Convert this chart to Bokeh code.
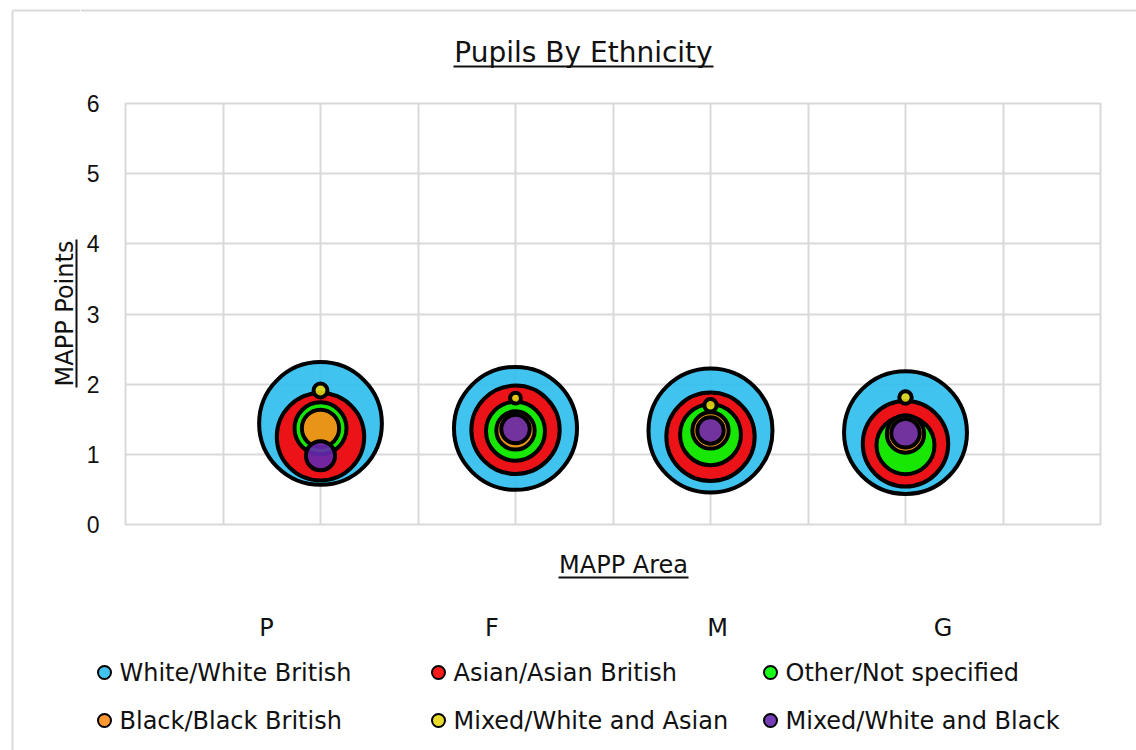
from math import sqrt, pi

from bokeh.plotting import figure
from bokeh.layouts import column, row
from bokeh.models import ColumnDataSource, FixedTicker
from bokeh.core.properties import value
from bokeh.embed import file_html
from bokeh.resources import INLINE

# ---- data -------------------------------------------------------------
areas = ["P", "F", "M", "G"]
area_x = [2, 4, 6, 8]

groups = ["White/White British", "Asian/Asian British", "Other/Not specified",
          "Black/Black British", "Mixed/White and Asian", "Mixed/White and Black"]

# mean MAPP points per area
white_points = [1.44, 1.37, 1.34, 1.31]
asian_points = [1.25, 1.35, 1.25, 1.15]
other_points = [1.37, 1.33, 1.28, 1.13]
black_points = [1.37, 1.34, 1.34, 1.29]
mixed_wa_points = [1.91, 1.80, 1.70, 1.81]
mixed_wb_points = [0.98, 1.36, 1.34, 1.30]

# number of pupils per area (bubble size)
white_pupils = [390, 392, 398, 391]
asian_pupils = [198, 202, 202, 189]
other_pupils = [70, 90, 96, 87]
black_pupils = [36, 38, 34, 36]
mixed_wa_pupils = [5, 3, 4, 4]
mixed_wb_pupils = [22, 21, 18, 21]

y_ticks = [0, 1, 2, 3, 4, 5, 6]

# ---- styling ----------------------------------------------------------
colors = ["#2CBCEE", "#FF0000", "#00FF00", "#FF8C1A", "#E4D614", "#6628AE"]
GRID = "#d9d9d9"
INK = "#111111"
FONT = "DejaVu Sans"

W, H = 1136, 750
LEFT_W = 80                   # strip holding the y title
TOP_H, MID_H = 90, 460        # title strip, plot strip
FRAME_L, FRAME_R, FRAME_T, FRAME_B = 125, 1100, 103, 524
BORDER_X, BORDER_Y = 12, 10


def strip(x0, x1, y0, y1):
    """Blank figure covering page pixels x0..x1, y0..y1 (y measured downwards)."""
    f = figure(width=x1 - x0, height=y1 - y0, x_range=(x0, x1), y_range=(y1, y0),
               output_backend="svg", toolbar_location=None, title=None,
               x_axis_location=None, y_axis_location=None, min_border=0)
    f.grid.visible = False
    f.outline_line_color = None
    f.background_fill_color = "white"
    f.border_fill_color = "white"
    return f


def words(f, xs, ys, texts, size, align="center", angle=0):
    f.text(x=xs, y=ys, text=texts, text_font=value(FONT), text_font_size=size,
           text_color=INK, text_align=align, text_baseline="middle", angle=angle)


def rule(f, x0, y0, x1, y1, color=INK):
    f.segment(x0=[x0], y0=[y0], x1=[x1], y1=[y1], line_color=color, line_width=2)


# ---- left strip: chart border and y title -----------------------------
left = strip(0, LEFT_W, 0, H)
rule(left, BORDER_X, BORDER_Y, BORDER_X, H, GRID)
rule(left, BORDER_X, BORDER_Y, LEFT_W, BORDER_Y, GRID)
words(left, [64], [313], ["MAPP Points"], "24px", angle=pi / 2)
rule(left, 76, 239, 76, 387)

# ---- title strip ------------------------------------------------------
top = strip(LEFT_W, W, 0, TOP_H)
rule(top, LEFT_W, BORDER_Y, W, BORDER_Y, GRID)
words(top, [583], [52], ["Pupils By Ethnicity"], "28px")
rule(top, 453, 66, 713, 66)

# ---- bubble plot ------------------------------------------------------
p = figure(width=W - LEFT_W, height=MID_H, x_range=(0, 10), y_range=(0, 6),
           output_backend="svg", toolbar_location=None, title=None,
           min_border_left=FRAME_L - LEFT_W, min_border_right=W - FRAME_R,
           min_border_top=FRAME_T - TOP_H, min_border_bottom=TOP_H + MID_H - FRAME_B)
p.background_fill_color = "white"
p.border_fill_color = "white"
p.outline_line_color = GRID
p.outline_line_width = 2

p.xaxis.visible = False
p.xgrid.ticker = FixedTicker(ticks=list(range(0, 11)))
p.ygrid.ticker = FixedTicker(ticks=y_ticks)
for g in (p.xgrid, p.ygrid):
    g.grid_line_color = GRID
    g.grid_line_width = 2

ax = p.yaxis[0]
ax.ticker = FixedTicker(ticks=y_ticks)
ax.axis_line_color = None
ax.major_tick_line_color = None
ax.minor_tick_line_color = None
ax.major_tick_out = 0
ax.major_tick_in = 0
ax.minor_tick_out = 0
ax.minor_tick_in = 0
ax.major_label_standoff = 26
ax.major_label_text_font = "Liberation Sans"
ax.major_label_text_font_size = "23px"
ax.major_label_text_color = INK

# bubble area proportional to pupil count
all_pupils = [white_pupils, asian_pupils, other_pupils, black_pupils,
              mixed_wa_pupils, mixed_wb_pupils]
all_points = [white_points, asian_points, other_points, black_points,
              mixed_wa_points, mixed_wb_points]
max_pupils = max(max(v) for v in all_pupils)
MAX_DIAM = 124

for pts, cnt, col in zip(all_points, all_pupils, colors):
    src = ColumnDataSource(dict(x=area_x, y=pts, n=cnt,
                                size=[MAX_DIAM * sqrt(c / max_pupils) for c in cnt]))
    p.scatter("x", "y", size="size", source=src, marker="circle",
              fill_color=col, fill_alpha=0.9, line_color="black", line_width=4)

# ---- bottom strip: x title, area names, legend ------------------------
bot = strip(LEFT_W, W, TOP_H + MID_H, H)
words(bot, [623], [564], ["MAPP Area"], "24px")
rule(bot, 558, 577, 688, 577)
words(bot, [266 + i * 225.5 for i in range(len(areas))], [627] * len(areas),
      areas, "24px")

col_x = [104, 438, 770]
row_y = [672, 720]
lx = [col_x[i % 3] for i in range(len(groups))]
ly = [row_y[i // 3] for i in range(len(groups))]
bot.scatter(x=lx, y=ly, size=13, marker="circle", fill_color=colors,
            fill_alpha=0.9, line_color="black", line_width=2)
words(bot, [x + 15 for x in lx], ly, groups, "24px", align="left")

layout = row(left, column(top, row(p), bot))
open("out.html", "w").write(file_html(layout, INLINE))
